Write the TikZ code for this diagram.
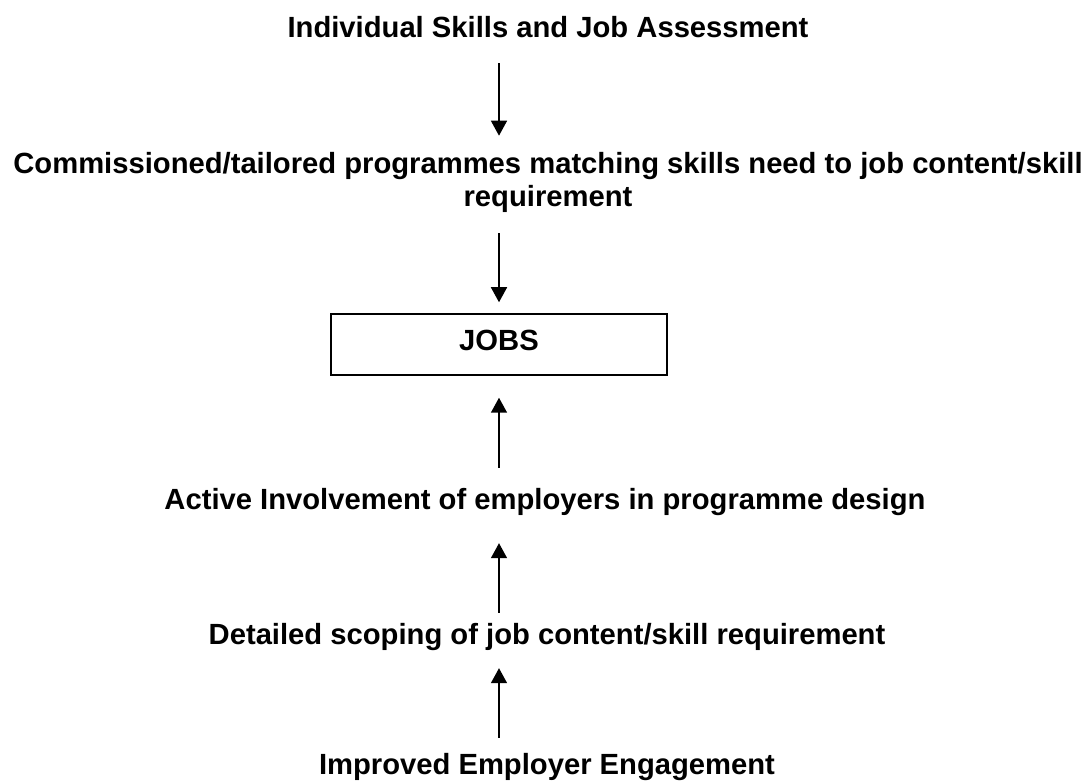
\documentclass[tikz,border=0pt]{standalone}
\usepackage{fontspec}
\setmainfont{Liberation Sans}
\usetikzlibrary{arrows.meta}

\begin{document}
\begin{tikzpicture}[
  x=1pt,
  y=1pt,
  step label/.style={font=\bfseries\fontsize{29.2}{33}\selectfont, inner sep=0pt, text height=21pt, text depth=6pt, anchor=base},
  multi label/.style={font=\bfseries\fontsize{29.2}{33}\selectfont, inner sep=0pt, align=center},
  jobbox/.style={draw=black, line width=1.5pt, minimum width=336pt, minimum height=61pt, inner sep=0pt, text height=21pt, text depth=8pt, font=\bfseries\fontsize{29.2}{33}\selectfont},
  flow/.style={black, line width=1.5pt, -{Triangle[length=15pt, width=16pt]}}
]
\path[use as bounding box] (0,0) rectangle (1087,-783);

\node[step label] (assess) at (548,-38) {Individual Skills and Job Assessment};
\node[multi label] (prog) at (548,-182) {Commissioned/tailored programmes matching skills need to job content/skill\\requirement};
\node[jobbox] (jobs) at (499,-344.5) {JOBS};
\node[step label] (involve) at (545,-509) {Active Involvement of employers in programme design};
\node[step label] (scoping) at (547,-644) {Detailed scoping of job content/skill requirement};
\node[step label] (engage) at (547,-774) {Improved Employer Engagement};

\draw[flow, shorten <=19pt, shorten >=16pt] (assess.south -| jobs.north) -- (prog.north -| jobs.north);
\draw[flow, shorten <=21pt, shorten >=11pt] (prog.south -| jobs.north) -- (jobs.north);
\draw[flow, shorten <=20pt, shorten >=22pt] (involve.north -| jobs.south) -- (jobs.south);
\draw[flow, shorten <=10pt, shorten >=28pt] (scoping.north -| jobs.south) -- (involve.south -| jobs.south);
\draw[flow, shorten <=15pt, shorten >=18pt] (engage.north -| jobs.south) -- (scoping.south -| jobs.south);
\end{tikzpicture}
\end{document}
